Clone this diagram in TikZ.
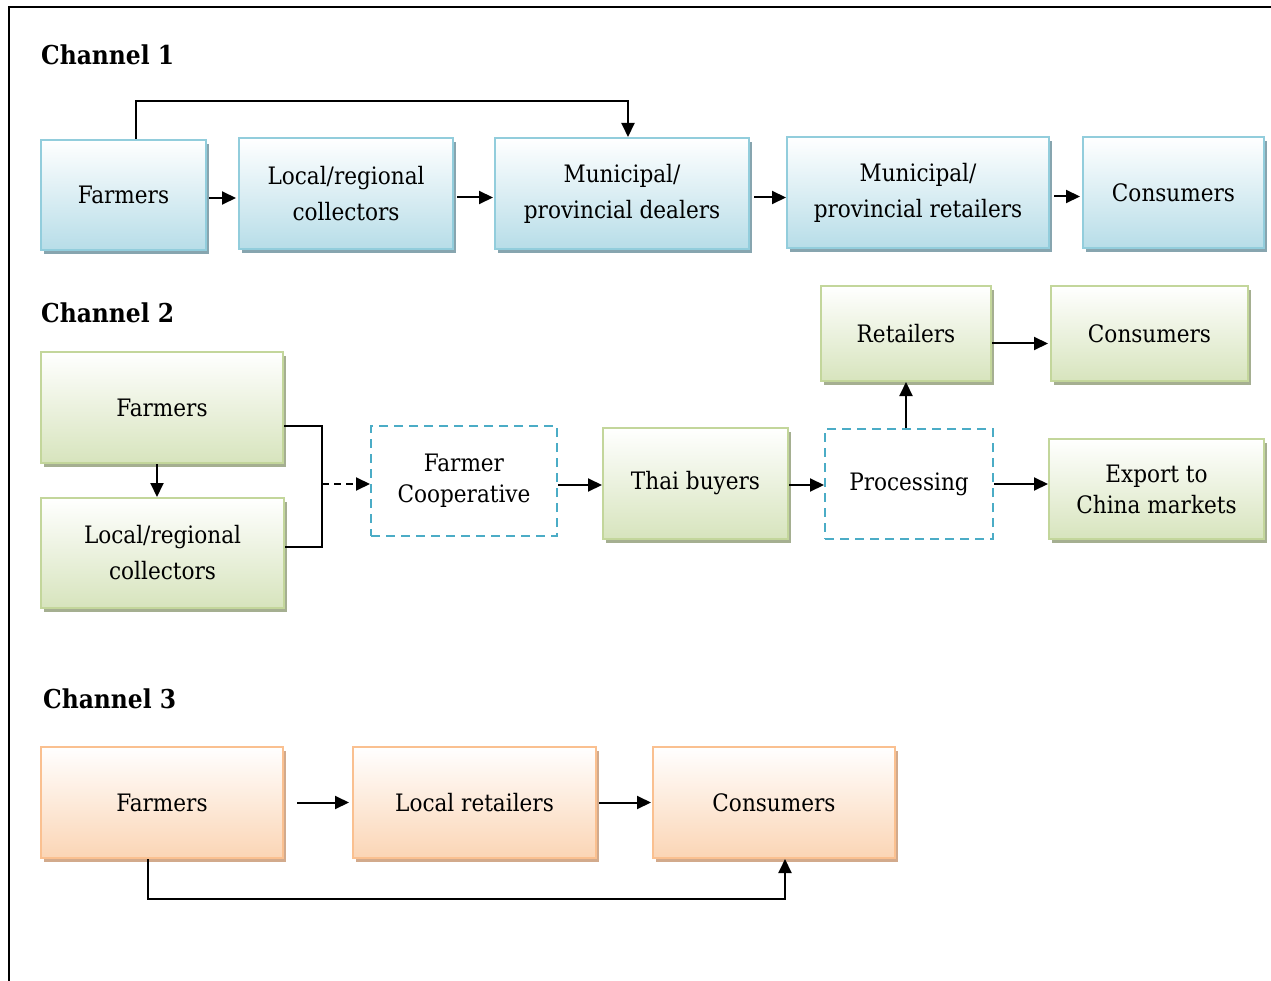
\documentclass[tikz,border=0pt]{standalone}
\usepackage{fontspec}
\setmainfont{DejaVu Serif Condensed}
\usetikzlibrary{arrows.meta,shadows,calc}
\definecolor{blfill}{RGB}{183,221,232}
\definecolor{bldraw}{RGB}{146,205,220}
\definecolor{blshad}{RGB}{135,165,175}
\definecolor{grfill}{RGB}{215,228,189}
\definecolor{grdraw}{RGB}{195,214,155}
\definecolor{grshad}{RGB}{165,175,145}
\definecolor{orfill}{RGB}{251,213,181}
\definecolor{ordraw}{RGB}{250,192,144}
\definecolor{orshad}{RGB}{210,170,140}
\definecolor{dashc}{RGB}{75,172,198}
\begin{document}
\begin{tikzpicture}[x=1pt,y=-1pt,
  box/.style={anchor=north west, align=center, inner sep=2pt,
    font=\fontsize{24}{36}\selectfont, line width=2pt},
  bluebox/.style={box, draw=bldraw, top color=white, bottom color=blfill,
    drop shadow={shadow xshift=3pt, shadow yshift=-4pt, fill=blshad, opacity=1}},
  greenbox/.style={box, draw=grdraw, top color=white, bottom color=grfill,
    drop shadow={shadow xshift=3pt, shadow yshift=-4pt, fill=grshad, opacity=1}},
  orangebox/.style={box, draw=ordraw, top color=white, bottom color=orfill,
    drop shadow={shadow xshift=3pt, shadow yshift=-4pt, fill=orshad, opacity=1}},
  dashbox/.style={box, draw=dashc, dashed, dash pattern=on 9pt off 6pt, fill=white},
  heading/.style={anchor=base west, inner sep=0pt, font=\fontsize{26}{30}\selectfont\bfseries},
  arr/.style={line width=2pt, -{Triangle[length=14pt,width=13pt]}},
  ln/.style={line width=2pt}
]
\useasboundingbox (0,0) rectangle (1271,981);
\draw[line width=1.2pt] (9,981) -- (9,7) -- (1271,7);

% Channel 1
\node[heading] (h1) at (41,65) {Channel 1};
\node[bluebox, minimum width=165pt, minimum height=110pt] (c1f) at (40,139) {Farmers};
\node[bluebox, minimum width=214pt, minimum height=111pt] (c1l) at (238,137) {Local/regional\\collectors};
\node[bluebox, minimum width=254pt, minimum height=111pt] (c1d) at (494,137) {Municipal/\\provincial dealers};
\node[bluebox, minimum width=262pt, minimum height=111pt] (c1r) at (786,136) {Municipal/\\provincial retailers};
\node[bluebox, minimum width=181pt, minimum height=111pt] (c1c) at (1082,136) {Consumers};
\draw[arr, shorten <=2pt, shorten >=2pt] ([yshift=-3pt]c1f.east) -- ([yshift=-3pt]c1f.east -| c1l.west);
\draw[arr, shorten <=3pt, shorten >=1pt] ([yshift=-4pt]c1l.east) -- ([yshift=-4pt]c1l.east -| c1d.west);
\draw[arr, shorten <=4pt, shorten >=0pt] ([yshift=-4pt]c1d.east) -- ([yshift=-4pt]c1d.east -| c1r.west);
\draw[arr, shorten <=4pt, shorten >=2pt] ([yshift=-4pt]c1r.east) -- ([yshift=-4pt]c1r.east -| c1c.west);
\draw[arr] ([xshift=96pt]c1f.north west) -- ++(0,-38) -| ([xshift=134pt]c1d.north west);

% Channel 2
\node[heading] (h2) at (41,323) {Channel 2};
\node[greenbox, minimum width=242pt, minimum height=111pt] (c2f) at (40,351) {Farmers};
\node[greenbox, minimum width=243pt, minimum height=110pt] (c2l) at (40,497) {Local/regional\\collectors};
\node[dashbox, minimum width=186pt, minimum height=110pt, font=\fontsize{24}{31}\selectfont] (coop) at (370,425) {Farmer\\Cooperative};
\node[greenbox, minimum width=185pt, minimum height=111pt] (thai) at (602,427) {Thai buyers};
\node[dashbox, minimum width=168pt, minimum height=110pt] (proc) at (824,428) {Processing};
\node[greenbox, minimum width=170pt, minimum height=95pt] (ret) at (820,285) {Retailers};
\node[greenbox, minimum width=197pt, minimum height=95pt] (c2c) at (1050,285) {Consumers};
\node[greenbox, minimum width=215pt, minimum height=100pt, font=\fontsize{24}{31}\selectfont] (exp) at (1048,438) {Export to\\China markets};
\coordinate (j) at (322,484);
\draw[arr] ([xshift=117pt]c2f.south west) -- ([xshift=117pt]c2l.north west);
\draw[ln] ([yshift=-18.5pt]c2f.east) -| (j) |- ([yshift=6pt]c2l.east);
\draw[arr, dashed, dash pattern=on 7pt off 5pt] (j) -- (j -| coop.west);
\draw[arr] ([yshift=-4pt]coop.east) -- ([yshift=-4pt]coop.east -| thai.west);
\draw[arr] ([yshift=-1.5pt]thai.east) -- ([yshift=-1.5pt]thai.east -| proc.west);
\draw[arr] (proc.north -| ret.south) -- (ret.south);
\draw[arr, shorten >=2pt] ([yshift=-10pt]ret.east) -- ([yshift=-10pt]ret.east -| c2c.west);
\draw[arr] (proc.east) -- (proc.east -| exp.west);

% Channel 3
\node[heading] (h3) at (43,708) {Channel 3};
\node[orangebox, minimum width=242pt, minimum height=111pt] (c3f) at (40,746) {Farmers};
\node[orangebox, minimum width=243pt, minimum height=111pt] (c3l) at (352,746) {Local retailers};
\node[orangebox, minimum width=242pt, minimum height=111pt] (c3c) at (652,746) {Consumers};
\draw[arr, shorten <=13pt, shorten >=3pt] (c3f.east) -- (c3l.west);
\draw[arr, shorten <=2pt, shorten >=1pt] (c3l.east) -- (c3c.west);
\draw[arr] ([xshift=108pt]c3f.south west) -- ++(0,40) -| ([xshift=133pt]c3c.south west);
\end{tikzpicture}
\end{document}
